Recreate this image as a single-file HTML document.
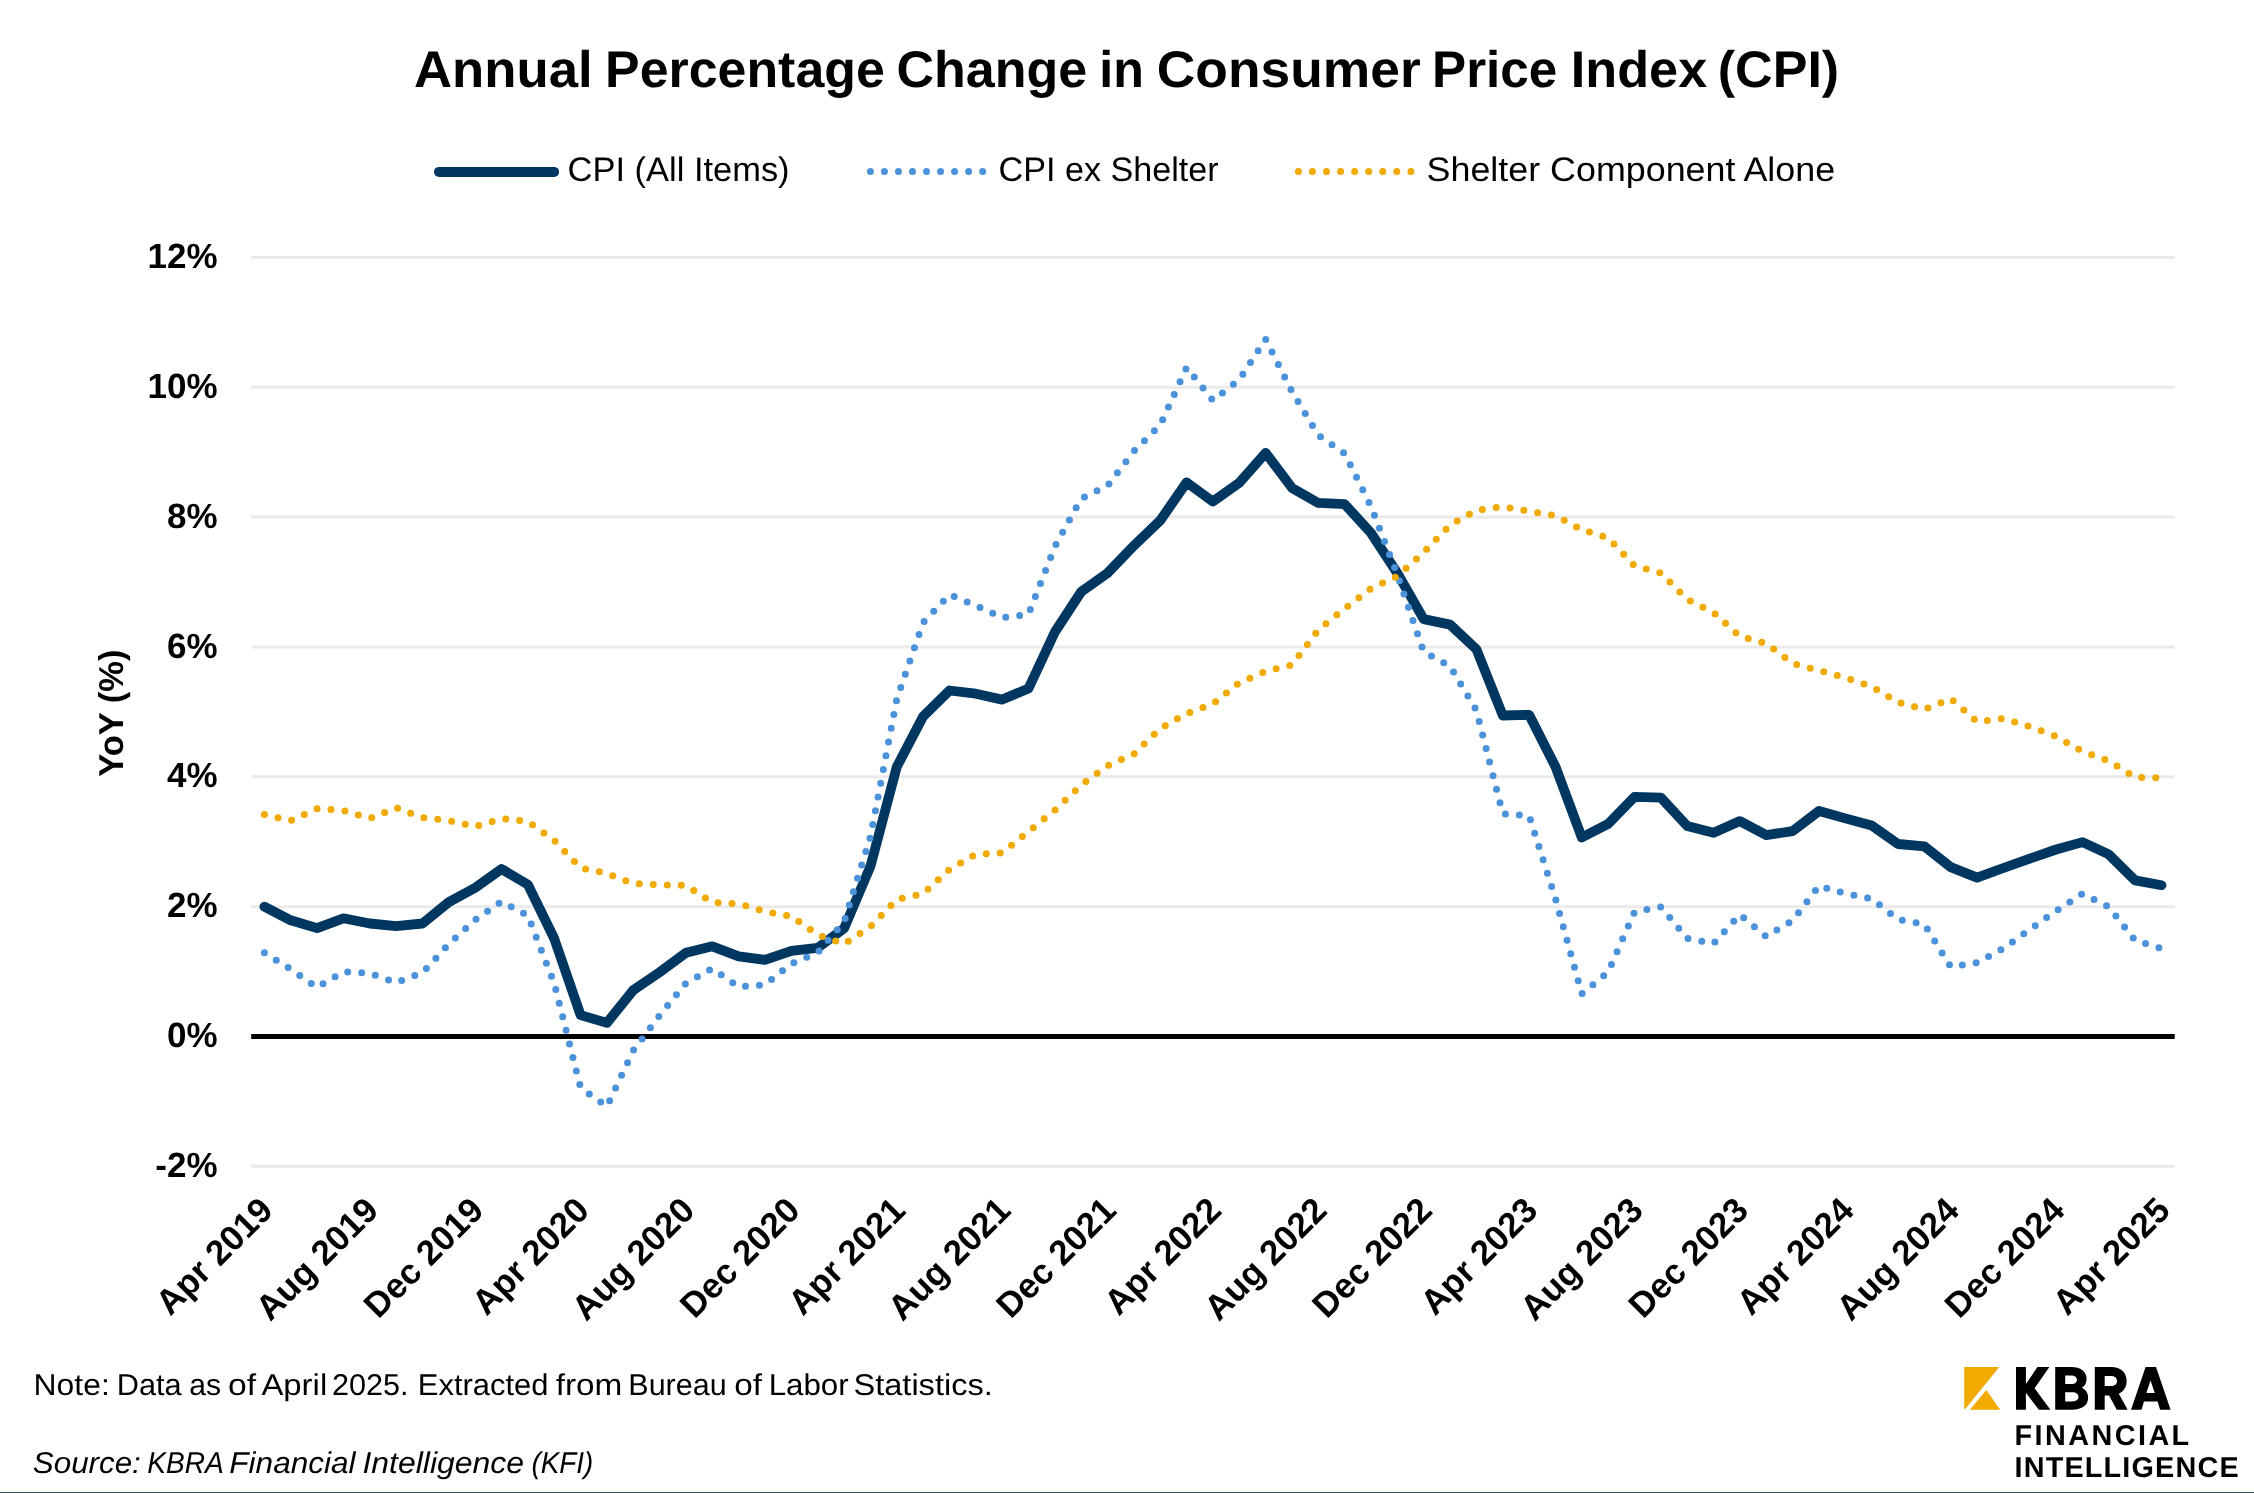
<!DOCTYPE html>
<html><head><meta charset="utf-8"><title>Annual Percentage Change in Consumer Price Index (CPI)</title>
<style>
html,body{margin:0;padding:0;background:#fff;}
body{width:2254px;height:1493px;overflow:hidden;font-family:"Liberation Sans",sans-serif;}
svg{display:block;will-change:transform;}
text{font-family:"Liberation Sans",sans-serif;fill:#000;text-rendering:geometricPrecision;}
.ax{font-weight:bold;font-size:35px;}
</style></head><body>
<svg width="2254" height="1493" viewBox="0 0 2254 1493">
<line x1="251.2" x2="2174.7" y1="257.5" y2="257.5" stroke="#eaeaea" stroke-width="3"/>
<line x1="251.2" x2="2174.7" y1="387.3" y2="387.3" stroke="#eaeaea" stroke-width="3"/>
<line x1="251.2" x2="2174.7" y1="517.1" y2="517.1" stroke="#eaeaea" stroke-width="3"/>
<line x1="251.2" x2="2174.7" y1="647.0" y2="647.0" stroke="#eaeaea" stroke-width="3"/>
<line x1="251.2" x2="2174.7" y1="776.8" y2="776.8" stroke="#eaeaea" stroke-width="3"/>
<line x1="251.2" x2="2174.7" y1="906.7" y2="906.7" stroke="#eaeaea" stroke-width="3"/>
<line x1="251.2" x2="2174.7" y1="1166.3" y2="1166.3" stroke="#eaeaea" stroke-width="3"/>
<text class="ax" x="217.6" y="268.1" text-anchor="end">12%</text>
<text class="ax" x="217.6" y="397.9" text-anchor="end">10%</text>
<text class="ax" x="217.6" y="527.7" text-anchor="end">8%</text>
<text class="ax" x="217.6" y="657.6" text-anchor="end">6%</text>
<text class="ax" x="217.6" y="787.4" text-anchor="end">4%</text>
<text class="ax" x="217.6" y="917.3" text-anchor="end">2%</text>
<text class="ax" x="217.6" y="1047.1" text-anchor="end">0%</text>
<text class="ax" x="217.6" y="1176.9" text-anchor="end">-2%</text>
<text class="ax" transform="translate(123.1,713.1) rotate(-90)" text-anchor="middle" style="font-size:34.5px">YoY (%)</text>
<line x1="251.2" x2="2174.7" y1="1036.5" y2="1036.5" stroke="#000" stroke-width="5"/>
<path d="M264.4,906.7 L290.7,920.3 L317.1,928.1 L343.4,918.3 L369.8,923.5 L396.1,926.1 L422.5,923.5 L448.8,902.1 L475.2,887.8 L501.5,869.0 L527.9,884.6 L554.2,938.5 L580.6,1015.1 L606.9,1022.9 L633.3,990.1 L659.6,972.2 L686.0,952.8 L712.3,946.3 L738.7,956.3 L765.0,959.9 L791.4,950.8 L817.7,947.9 L844.1,928.4 L870.4,866.4 L896.8,766.8 L923.1,716.4 L949.5,690.5 L975.8,693.7 L1002.2,699.6 L1028.5,688.5 L1054.9,632.0 L1081.2,591.8 L1107.6,573.0 L1133.9,545.7 L1160.3,520.4 L1186.6,482.4 L1212.9,501.6 L1239.3,482.7 L1265.6,452.9 L1292.0,487.9 L1318.3,502.9 L1344.7,504.2 L1371.0,533.0 L1397.4,573.3 L1423.7,619.1 L1450.1,624.6 L1476.4,649.3 L1502.8,715.5 L1529.1,714.8 L1555.5,766.8 L1581.8,837.5 L1608.2,823.9 L1634.5,796.9 L1660.9,797.6 L1687.2,826.0 L1713.6,832.8 L1739.9,821.1 L1766.3,835.1 L1792.6,831.2 L1819.0,811.0 L1845.3,818.4 L1871.7,825.6 L1898.0,844.0 L1924.4,846.3 L1950.7,867.1 L1977.1,877.6 L2003.4,868.0 L2029.8,858.6 L2056.1,849.5 L2082.5,842.1 L2108.8,854.4 L2135.2,880.4 L2161.5,885.2" fill="none" stroke="#003761" stroke-width="9.8" stroke-linecap="round" stroke-linejoin="round"/>
<path d="M264.4,952.8 L290.7,969.2 L317.1,987.4 L343.4,971.7 L369.8,973.3 L396.1,982.6 L422.5,972.7 L448.8,944.1 L475.2,919.8 L501.5,901.5 L527.9,915.7 L554.2,983.3 L580.6,1087.8 L606.9,1106.5 L633.3,1050.5 L659.6,1015.4 L686.0,983.1 L712.3,968.6 L738.7,986.9 L765.0,984.8 L791.4,963.8 L817.7,952.6 L844.1,921.6 L870.4,836.8 L896.8,698.9 L923.1,622.6 L949.5,594.7 L975.8,605.5 L1002.2,617.7 L1028.5,614.3 L1054.9,546.4 L1081.2,498.6 L1107.6,485.7 L1133.9,451.2 L1160.3,425.0 L1186.6,367.4 L1212.9,400.4 L1239.3,379.6 L1265.6,339.2 L1292.0,391.5 L1318.3,435.3 L1344.7,453.5 L1371.0,506.4 L1397.4,574.9 L1423.7,651.8 L1450.1,666.2 L1476.4,710.5 L1502.8,813.8 L1529.1,815.8 L1555.5,898.6 L1581.8,993.9 L1608.2,971.9 L1634.5,911.9 L1660.9,907.0 L1687.2,938.3 L1713.6,943.5 L1739.9,914.6 L1766.3,936.6 L1792.6,920.6 L1819.0,885.9 L1845.3,893.5 L1871.7,898.7 L1898.0,919.3 L1924.4,924.4 L1950.7,966.7 L1977.1,962.7 L2003.4,948.5 L2029.8,929.4 L2056.1,911.0 L2082.5,893.7 L2108.8,906.9 L2135.2,940.4 L2161.5,948.5" fill="none" stroke="#4c92da" stroke-width="7" stroke-linecap="round" stroke-linejoin="round" stroke-dasharray="0 14"/>
<path d="M264.4,814.5 L290.7,820.7 L317.1,808.7 L343.4,810.4 L369.8,818.5 L396.1,807.7 L422.5,817.7 L448.8,820.5 L475.2,826.7 L501.5,818.6 L527.9,821.5 L554.2,840.4 L580.6,868.0 L606.9,873.4 L633.3,883.5 L659.6,884.8 L686.0,885.3 L712.3,902.6 L738.7,903.7 L765.0,911.5 L791.4,916.3 L817.7,934.8 L844.1,943.9 L870.4,926.7 L896.8,899.3 L923.1,893.7 L949.5,869.3 L975.8,854.3 L1002.2,852.8 L1028.5,831.5 L1054.9,810.2 L1081.2,784.9 L1107.6,765.8 L1133.9,754.0 L1160.3,728.6 L1186.6,713.6 L1212.9,703.9 L1239.3,682.7 L1265.6,671.4 L1292.0,665.0 L1318.3,629.8 L1344.7,608.5 L1371.0,588.4 L1397.4,576.2 L1423.7,552.3 L1450.1,524.9 L1476.4,510.3 L1502.8,506.6 L1529.1,511.3 L1555.5,515.6 L1581.8,529.7 L1608.2,538.0 L1634.5,565.7 L1660.9,573.0 L1687.2,599.4 L1713.6,612.6 L1739.9,636.2 L1766.3,643.5 L1792.6,663.5 L1819.0,670.5 L1845.3,677.6 L1871.7,686.5 L1898.0,702.3 L1924.4,709.4 L1950.7,698.6 L1977.1,721.7 L2003.4,718.4 L2029.8,726.6 L2056.1,736.4 L2082.5,751.5 L2108.8,760.8 L2135.2,777.5 L2161.5,777.8" fill="none" stroke="#f0aa00" stroke-width="7" stroke-linecap="round" stroke-linejoin="round" stroke-dasharray="0 14"/>
<text class="ax" transform="translate(274.8,1212.3) rotate(-45)" text-anchor="end">Apr 2019</text>
<text class="ax" transform="translate(380.2,1212.3) rotate(-45)" text-anchor="end">Aug 2019</text>
<text class="ax" transform="translate(485.6,1212.3) rotate(-45)" text-anchor="end">Dec 2019</text>
<text class="ax" transform="translate(591.0,1212.3) rotate(-45)" text-anchor="end">Apr 2020</text>
<text class="ax" transform="translate(696.4,1212.3) rotate(-45)" text-anchor="end">Aug 2020</text>
<text class="ax" transform="translate(801.8,1212.3) rotate(-45)" text-anchor="end">Dec 2020</text>
<text class="ax" transform="translate(907.2,1212.3) rotate(-45)" text-anchor="end">Apr 2021</text>
<text class="ax" transform="translate(1012.6,1212.3) rotate(-45)" text-anchor="end">Aug 2021</text>
<text class="ax" transform="translate(1118.0,1212.3) rotate(-45)" text-anchor="end">Dec 2021</text>
<text class="ax" transform="translate(1223.3,1212.3) rotate(-45)" text-anchor="end">Apr 2022</text>
<text class="ax" transform="translate(1328.7,1212.3) rotate(-45)" text-anchor="end">Aug 2022</text>
<text class="ax" transform="translate(1434.1,1212.3) rotate(-45)" text-anchor="end">Dec 2022</text>
<text class="ax" transform="translate(1539.5,1212.3) rotate(-45)" text-anchor="end">Apr 2023</text>
<text class="ax" transform="translate(1644.9,1212.3) rotate(-45)" text-anchor="end">Aug 2023</text>
<text class="ax" transform="translate(1750.3,1212.3) rotate(-45)" text-anchor="end">Dec 2023</text>
<text class="ax" transform="translate(1855.7,1212.3) rotate(-45)" text-anchor="end">Apr 2024</text>
<text class="ax" transform="translate(1961.1,1212.3) rotate(-45)" text-anchor="end">Aug 2024</text>
<text class="ax" transform="translate(2066.5,1212.3) rotate(-45)" text-anchor="end">Dec 2024</text>
<text class="ax" transform="translate(2171.9,1212.3) rotate(-45)" text-anchor="end">Apr 2025</text>
<text x="414.0" y="86.8" style="font-weight:bold;font-size:51.5px" textLength="178.6" lengthAdjust="spacingAndGlyphs">Annual</text>
<text x="605.1" y="86.8" style="font-weight:bold;font-size:51.5px" textLength="279.7" lengthAdjust="spacingAndGlyphs">Percentage</text>
<text x="896.5" y="86.8" style="font-weight:bold;font-size:51.5px" textLength="190.7" lengthAdjust="spacingAndGlyphs">Change</text>
<text x="1099.3" y="86.8" style="font-weight:bold;font-size:51.5px" textLength="44.6" lengthAdjust="spacingAndGlyphs">in</text>
<text x="1156.8" y="86.8" style="font-weight:bold;font-size:51.5px" textLength="264.0" lengthAdjust="spacingAndGlyphs">Consumer</text>
<text x="1432.0" y="86.8" style="font-weight:bold;font-size:51.5px" textLength="125.2" lengthAdjust="spacingAndGlyphs">Price</text>
<text x="1570.8" y="86.8" style="font-weight:bold;font-size:51.5px" textLength="136.4" lengthAdjust="spacingAndGlyphs">Index</text>
<text x="1717.8" y="86.8" style="font-weight:bold;font-size:51.5px" textLength="121.4" lengthAdjust="spacingAndGlyphs">(CPI)</text>
<line x1="439" x2="554.1" y1="171.9" y2="171.9" stroke="#003761" stroke-width="10" stroke-linecap="round"/>
<text x="567.6" y="181.3" style="font-size:34px" textLength="222" lengthAdjust="spacingAndGlyphs">CPI (All Items)</text>
<line x1="870.4" x2="990" y1="171.6" y2="171.6" stroke="#4c92da" stroke-width="7" stroke-linecap="round" stroke-dasharray="0 14.03"/>
<text x="998.6" y="181.3" style="font-size:34px" textLength="220" lengthAdjust="spacingAndGlyphs">CPI ex Shelter</text>
<line x1="1298.4" x2="1418" y1="171.5" y2="171.5" stroke="#f0aa00" stroke-width="7" stroke-linecap="round" stroke-dasharray="0 14.06"/>
<text x="1426.6" y="181.2" style="font-size:34px" textLength="408.5" lengthAdjust="spacingAndGlyphs">Shelter Component Alone</text>
<text x="33.6" y="1394.9" style="font-size:30px" textLength="76.2" lengthAdjust="spacingAndGlyphs">Note:</text>
<text x="116.8" y="1394.9" style="font-size:30px" textLength="64.9" lengthAdjust="spacingAndGlyphs">Data</text>
<text x="189.3" y="1394.9" style="font-size:30px" textLength="31.8" lengthAdjust="spacingAndGlyphs">as</text>
<text x="228.1" y="1394.9" style="font-size:30px" textLength="28.1" lengthAdjust="spacingAndGlyphs">of</text>
<text x="261.4" y="1394.9" style="font-size:30px" textLength="65.8" lengthAdjust="spacingAndGlyphs">April</text>
<text x="331.9" y="1394.9" style="font-size:30px" textLength="76.7" lengthAdjust="spacingAndGlyphs">2025.</text>
<text x="417.8" y="1394.9" style="font-size:30px" textLength="130.7" lengthAdjust="spacingAndGlyphs">Extracted</text>
<text x="555.7" y="1394.9" style="font-size:30px" textLength="66.7" lengthAdjust="spacingAndGlyphs">from</text>
<text x="628.3" y="1394.9" style="font-size:30px" textLength="98.4" lengthAdjust="spacingAndGlyphs">Bureau</text>
<text x="734.3" y="1394.9" style="font-size:30px" textLength="27.8" lengthAdjust="spacingAndGlyphs">of</text>
<text x="768.7" y="1394.9" style="font-size:30px" textLength="80.0" lengthAdjust="spacingAndGlyphs">Labor</text>
<text x="853.4" y="1394.9" style="font-size:30px" textLength="139.5" lengthAdjust="spacingAndGlyphs">Statistics.</text>
<text x="32.8" y="1472.5" style="font-size:30px;font-style:italic" textLength="108.0" lengthAdjust="spacingAndGlyphs">Source:</text>
<text x="147.3" y="1472.5" style="font-size:30px;font-style:italic" textLength="76.5" lengthAdjust="spacingAndGlyphs">KBRA</text>
<text x="229.3" y="1472.5" style="font-size:30px;font-style:italic" textLength="126.3" lengthAdjust="spacingAndGlyphs">Financial</text>
<text x="362.4" y="1472.5" style="font-size:30px;font-style:italic" textLength="161.7" lengthAdjust="spacingAndGlyphs">Intelligence</text>
<text x="531.4" y="1472.5" style="font-size:30px;font-style:italic" textLength="61.9" lengthAdjust="spacingAndGlyphs">(KFI)</text>
<g transform="translate(1955,1355) scale(0.10204)">
<path d="M92,118 H424 Q432,118 428,126 L100,528 Q90,536 90,522 V124 Q90,118 92,118 Z" fill="#f0aa00"/>
<path d="M307,343 L438,528 Q444,537 434,537 H156 Q146,537 152,530 Z" fill="#f0aa00"/>
<path d="M598,118 H695 V285 L808,118 H925 L780,325 L935,537 H822 L695,370 V537 H598 Z" fill="#000"/>
<path fill-rule="evenodd" d="M982,118 H1140 C1232,118 1290,163 1290,235 C1290,275 1273,305 1243,322 C1282,340 1305,375 1305,420 C1305,492 1245,537 1150,537 H982 Z M1080,200 V285 H1140 C1175,285 1195,268 1195,242 C1195,216 1175,200 1140,200 Z M1080,365 V455 H1150 C1188,455 1210,438 1210,410 C1210,382 1188,365 1150,365 Z" fill="#000"/>
<path fill-rule="evenodd" d="M1370,118 H1530 C1625,118 1682,170 1682,255 C1682,315 1652,358 1605,380 L1692,537 H1585 L1510,398 H1467 V537 H1370 Z M1467,205 V305 H1525 C1565,305 1588,287 1588,255 C1588,223 1565,205 1525,205 Z" fill="#000"/>
<path fill-rule="evenodd" d="M1868,118 H1970 L2113,537 H2010 L1985,455 H1852 L1828,537 H1725 Z M1916,250 L1958,372 H1875 Z" fill="#000"/>
</g>
<text x="2014.6" y="1445.4" style="font-size:28.8px;font-weight:bold" textLength="174.6" lengthAdjust="spacing">FINANCIAL</text>
<text x="2014.6" y="1476.7" style="font-size:28.8px;font-weight:bold" textLength="224" lengthAdjust="spacing">INTELLIGENCE</text>
<rect x="0" y="1492" width="2254" height="1" fill="#375860"/>
</svg></body></html>
